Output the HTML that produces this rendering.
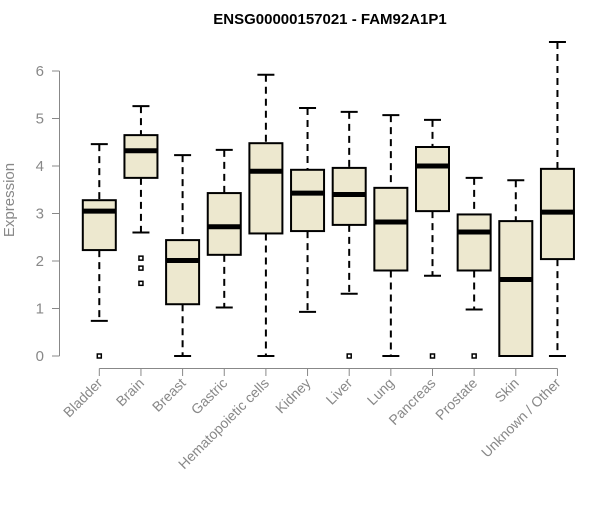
<!DOCTYPE html>
<html><head><meta charset="utf-8"><style>
body{margin:0;background:#fff}
svg text{font-family:"Liberation Sans",Arial,sans-serif}
</style></head><body>
<svg id="chart" width="600" height="500">
<text x="330" y="24" text-anchor="middle" font-size="15" font-weight="bold">ENSG00000157021 - FAM92A1P1</text>
<text transform="translate(14,200) rotate(-90)" text-anchor="middle" font-size="15" fill="#888">Expression</text>
<g id="yaxis"></g>
<g id="xaxis"></g>
<g id="boxes"></g>
</svg>
<script>
const categories=["Bladder","Brain","Breast","Gastric","Hematopoietic cells","Kidney","Liver","Lung","Pancreas","Prostate","Skin","Unknown / Other"];
const whiskerLow=[0.74,2.6,0,1.02,0,0.93,1.31,0,1.69,0.98,0,0];
const q1=[2.23,3.75,1.09,2.13,2.58,2.63,2.76,1.80,3.05,1.80,0,2.04];
const medians=[3.05,4.32,2.01,2.72,3.89,3.43,3.40,2.82,4.0,2.61,1.61,3.03];
const q3=[3.28,4.65,2.44,3.43,4.48,3.92,3.96,3.54,4.40,2.98,2.84,3.94];
const whiskerHigh=[4.46,5.26,4.23,4.34,5.92,5.22,5.14,5.07,4.97,3.75,3.70,6.61];
const outliers=[[0],[2.06,1.85,1.53],[],[],[],[],[0],[],[0],[0],[],[]];
const yTicks=[0,1,2,3,4,5,6];
const NS="http://www.w3.org/2000/svg";
const y=v=>356-v*47.5;
const x=i=>99.3+i*41.65;
function mk(tag,attrs,parent){const e=document.createElementNS(NS,tag);for(const k in attrs)e.setAttribute(k,attrs[k]);parent.appendChild(e);return e;}
const ya=document.getElementById('yaxis'),xa=document.getElementById('xaxis'),bx=document.getElementById('boxes');
mk('line',{x1:59.5,x2:59.5,y1:y(6),y2:y(0),stroke:'#888'},ya);
yTicks.forEach(t=>{
 const l=mk('line',{x1:52,x2:59.5,y1:y(t),y2:y(t),stroke:'#888'},ya);
 
 
 const tx=mk('text',{x:44,y:y(t)+5,'text-anchor':'end','font-size':15,fill:'#888'},ya);
 tx.textContent=t;
 
 
});
mk('line',{x1:x(0),x2:x(categories.length-1),y1:368.5,y2:368.5,stroke:'#888'},xa);
categories.forEach((c,i)=>{
 const cx=x(i);
 const tk=mk('line',{x1:cx,x2:cx,y1:368.5,y2:376,stroke:'#888'},xa);
 
 
 const tx=mk('text',{transform:`translate(${cx+4},384) rotate(-45)`,'text-anchor':'end','font-size':14,fill:'#888'},xa);
 tx.textContent=c;
 
 
 const g=mk('g',{},bx);
 
 
 mk('line',{x1:cx,x2:cx,y1:y(whiskerHigh[i]),y2:y(q3[i]),stroke:'#000','stroke-width':2,'stroke-dasharray':'7,5'},g);
 mk('line',{x1:cx,x2:cx,y1:y(q1[i]),y2:y(whiskerLow[i]),stroke:'#000','stroke-width':2,'stroke-dasharray':'7,5'},g);
 mk('line',{x1:cx-8.5,x2:cx+8.5,y1:y(whiskerHigh[i]),y2:y(whiskerHigh[i]),stroke:'#000','stroke-width':2},g);
 mk('line',{x1:cx-8.5,x2:cx+8.5,y1:y(whiskerLow[i]),y2:y(whiskerLow[i]),stroke:'#000','stroke-width':2},g);
 mk('rect',{x:cx-16.5,y:y(q3[i]),width:33,height:y(q1[i])-y(q3[i]),fill:'#ede8cf',stroke:'#000','stroke-width':2},g);
 mk('line',{x1:cx-16.5,x2:cx+16.5,y1:y(medians[i]),y2:y(medians[i]),stroke:'#000','stroke-width':5},g);
 outliers[i].forEach(o=>{
  const r=mk('rect',{x:cx-2,y:y(o)-2,width:4,height:4,fill:'none',stroke:'#000','stroke-width':1.5},g);
  
  
 });
});
</script>
</body></html>
